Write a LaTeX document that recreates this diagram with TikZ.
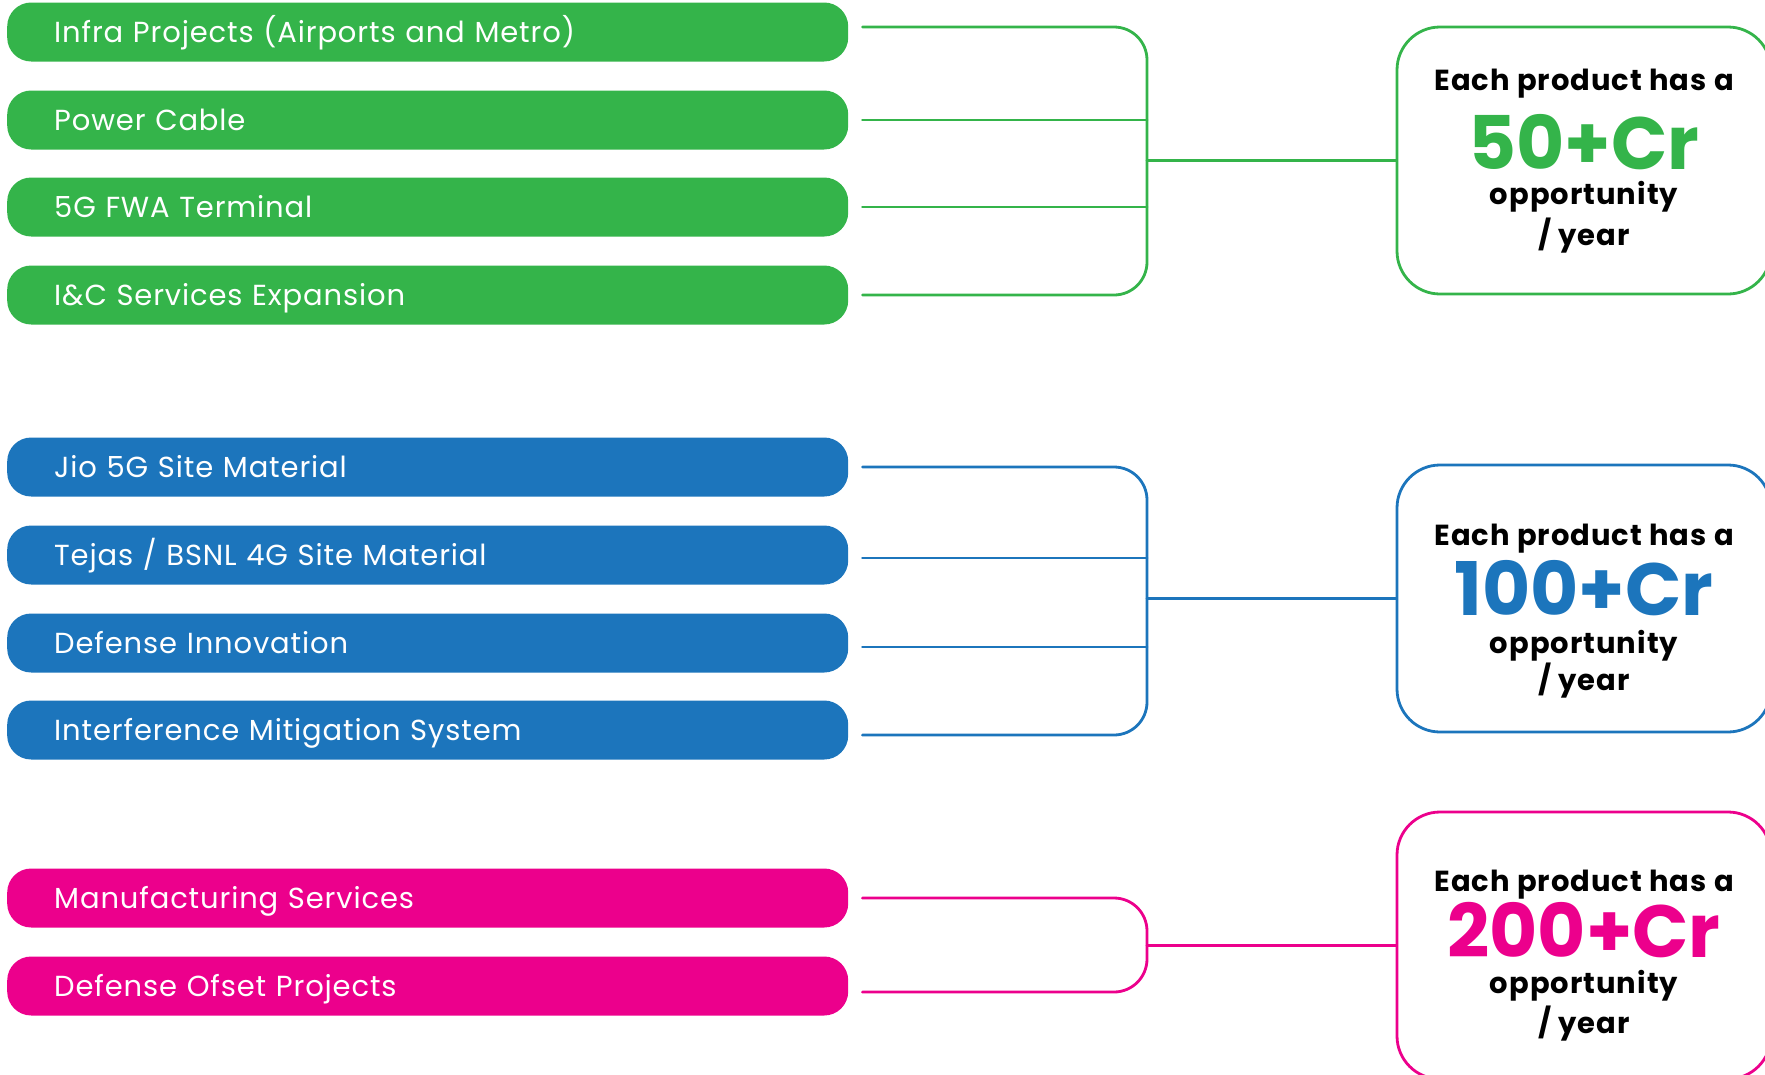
\documentclass[tikz,border=0pt]{standalone}
\usepackage{fontspec}
\setmainfont{Poppins}
\newfontfamily\pillfont[LetterSpace=3]{Poppins}
\newfontfamily\eachfont[LetterSpace=3.5]{Poppins}
\usepackage{xcolor}
\usepackage{tikz}
\usetikzlibrary{positioning,calc}
\definecolor{jgreen}{HTML}{34B44A}
\definecolor{jblue}{HTML}{1C75BC}
\definecolor{jpink}{HTML}{EC008C}
\tikzset{
  pill/.style={rectangle, rounded corners=24pt, fill=#1, text=white,
    minimum width=841pt, minimum height=59pt, text width=747pt,
    text height=24pt, text depth=4pt,
    inner xsep=47pt, inner ysep=0pt, align=left, anchor=west,
    font=\pillfont\fontsize{29}{34}\selectfont},
  link/.style={draw=#1, line width=2.8pt},
  oppbox/.style={rectangle, rounded corners=43pt, draw=#1, line width=2.8pt,
    minimum width=374pt, minimum height=267pt},
  each/.style={anchor=base, inner sep=0pt, font=\eachfont\bfseries\fontsize{29}{34}\selectfont},
  amount/.style={anchor=base, inner sep=0pt, text=#1, font=\bfseries\fontsize{74}{80}\selectfont},
}
\begin{document}
\begin{tikzpicture}[x=1pt,y=-1pt,line cap=round,line join=round]
\useasboundingbox (0,0) rectangle (1765,1074);
%% green group
\node[pill=jgreen] (g1) at (7,32) {Infra Projects (Airports and Metro)};
\node[pill=jgreen] (g2) at (7,120) {Power Cable};
\node[pill=jgreen] (g3) at (7,207) {5G FWA Terminal};
\node[pill=jgreen] (g4) at (7,295) {I\&C Services Expansion};
\node[oppbox=jgreen] (gbox) at (1584,160.5) {};
\node[each] at (1584,90) {Each product has a};
\node[amount=jgreen] at (1584,169) {50+Cr};
\node[each] at (1584,204) {opportunity};
\node[each] at (1584,245) {/ year};
\coordinate (gx) at (1147,0);
\coordinate (g1s) at ([xshift=14pt,yshift=5pt]g1.east);
\coordinate (g2s) at ([xshift=14pt]g2.east);
\coordinate (g3s) at ([xshift=14pt]g3.east);
\coordinate (g4s) at ([xshift=14pt]g4.east);
\draw[link=jgreen, rounded corners=33pt] (g1s) -- (g1s -| gx) -- (g4s -| gx) -- (g4s);
\draw[link=jgreen] (g2s) -- (g2s -| gx);
\draw[link=jgreen] (g3s) -- (g3s -| gx);
\draw[link=jgreen] (gbox.west -| gx) -- (gbox.west);
%% blue group
\node[pill=jblue] (b1) at (7,467) {Jio 5G Site Material};
\node[pill=jblue] (b2) at (7,555) {Tejas / BSNL 4G Site Material};
\node[pill=jblue] (b3) at (7,643) {Defense Innovation};
\node[pill=jblue] (b4) at (7,730) {Interference Mitigation System};
\node[oppbox=jblue] (bbox) at (1584,598.5) {};
\node[each] at (1584,545) {Each product has a};
\node[amount=jblue] at (1584,615) {100+Cr};
\node[each] at (1584,653) {opportunity};
\node[each] at (1584,690) {/ year};
\coordinate (b1s) at ([xshift=14pt]b1.east);
\coordinate (b2s) at ([xshift=14pt,yshift=-3pt]b2.east);
\coordinate (b3s) at ([xshift=14pt,yshift=-4pt]b3.east);
\coordinate (b4s) at ([xshift=14pt,yshift=-5pt]b4.east);
\draw[link=jblue, rounded corners=33pt] (b1s) -- (b1s -| gx) -- (b4s -| gx) -- (b4s);
\draw[link=jblue] (b2s) -- (b2s -| gx);
\draw[link=jblue] (b3s) -- (b3s -| gx);
\draw[link=jblue] (bbox.west -| gx) -- (bbox.west);
%% pink group
\node[pill=jpink] (p1) at (7,898) {Manufacturing Services};
\node[pill=jpink] (p2) at (7,986) {Defense Ofset Projects};
\node[oppbox=jpink] (pbox) at (1584,945.5) {};
\node[each] at (1584,891) {Each product has a};
\node[amount=jpink] at (1584,957) {200+Cr};
\node[each] at (1584,993) {opportunity};
\node[each] at (1584,1033) {/ year};
\coordinate (p1s) at ([xshift=14pt]p1.east);
\coordinate (p2s) at ([xshift=14pt,yshift=-6pt]p2.east);
\draw[link=jpink, rounded corners=33pt] (p1s) -- (p1s -| gx) -- (p2s -| gx) -- (p2s);
\draw[link=jpink] (pbox.west -| gx) -- (pbox.west);
\end{tikzpicture}
\end{document}
